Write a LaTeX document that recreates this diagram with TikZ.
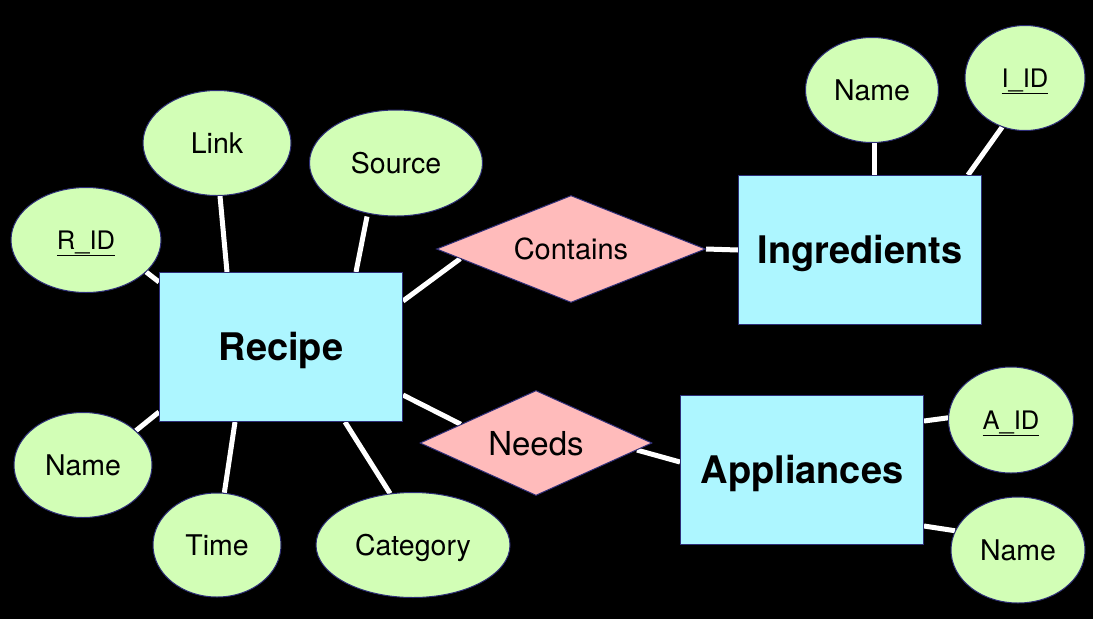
\documentclass[tikz,border=0pt]{standalone}
\usepackage{fontspec}
\setmainfont{TeX Gyre Heros}
\usetikzlibrary{positioning,shapes.geometric,backgrounds}
\definecolor{attrgreen}{HTML}{D2FEB6}
\definecolor{entcyan}{HTML}{ADF6FF}
\definecolor{relpink}{HTML}{FFBBBB}
\definecolor{edgenavy}{HTML}{2E2E78}
\tikzset{
    entity/.style={%
        draw=edgenavy, fill=entcyan, line width=1pt,
        minimum width=243pt,
        minimum height=149pt,
        inner sep=0pt, text height=27pt, text depth=0pt,
        font=\fontsize{38}{40}\selectfont\bfseries
        },
    attrib/.style={%
        ellipse, draw=edgenavy, fill=attrgreen, line width=1pt,
        minimum width=#1,
        minimum height=105pt,
        inner sep=0pt, text height=20.5pt, text depth=0pt,
        font=\fontsize{28.5}{30}\selectfont
        },
    attrib/.default=138pt,
    keyattrib/.style={attrib=#1, text height=18pt, font=\fontsize{25.5}{27}\selectfont},
    keyattrib/.default=125pt,
    relation/.style={%
        diamond, aspect=2.5, draw=edgenavy, fill=relpink, line width=1pt,
        minimum width=#1,
        minimum height=107pt,
        inner sep=0pt, text height=21pt, text depth=0pt,
        font=\fontsize{29}{31}\selectfont
        },
    relation/.default=269pt,
    link/.style={draw=white, line width=5pt}
}

\begin{document}
\begin{tikzpicture}[x=1pt, y=-1pt]

\useasboundingbox (0,0) rectangle (1093,619);

\node[entity] (Recipe) at (281,347) {Recipe};

\node[entity] (Ingredients) at (860,250) {Ingredients};

\node[entity] (Appliances) at (802,470) {Appliances};

\node[relation] (Contains) at (571,249) {Contains};

\node[relation=232pt, minimum height=105pt, text height=24pt, font=\fontsize{33}{35}\selectfont] (Needs) at (536,443) {Needs};

\node[attrib=148pt] (Link) at (217,143) {Link};

\node[attrib=173pt, minimum height=106pt] (Source) at (396,163) {Source};

\node[keyattrib=150pt] (R-ID) at (86,240) {\underline{R\_ID}};

\node[attrib] (R-Name) at (83,465) {Name};

\node[attrib=128pt, minimum height=104pt] (Time) at (217,545) {Time};

\node[attrib=194pt] (Category) at (413,545) {Category};

\node[attrib=133pt] (I-Name) at (872,90) {Name};

\node[keyattrib=120pt] (I-ID) at (1025,78) {\underline{I\_ID}};

\node[keyattrib, minimum height=106pt] (A-ID) at (1011,420) {\underline{A\_ID}};

\node[attrib=134pt, minimum height=106pt] (A-Name) at (1018,550) {Name};

\begin{scope}[on background layer]
\fill[black] (0,0) rectangle (1093,619);

\draw[link] ([xshift=3pt]Link.south) -- ([xshift=68pt]Recipe.north west);
\draw[link] ([xshift=-29pt]Source.south) -- ([xshift=197pt]Recipe.north west);
\draw[link] (R-ID.-28) -- ([yshift=-10pt]Recipe.north west);
\draw[link] (R-Name.33) -- ([yshift=10pt]Recipe.south west);
\draw[link] (Time.82) -- ([xshift=76pt]Recipe.south west);
\draw[link] (Category.114) -- ([xshift=186pt]Recipe.south west);

\draw[link] ([yshift=-29pt]Recipe.north east) -- (Contains.185);
\draw[link] (Contains.east) -- (Ingredients.west);
\draw[link] ([yshift=27pt]Recipe.south east) -- (Needs.166);
\draw[link] (Needs.-4) -- ([yshift=8pt]Appliances.west);

\draw[link] ([xshift=2pt]I-Name.south) -- ([xshift=2pt]I-Name.south |- Ingredients.north);
\draw[link] (I-ID.245) -- ([xshift=-14pt]Ingredients.north east);

\draw[link] ([yshift=-26pt]Appliances.north east) -- (A-ID.178);
\draw[link] ([yshift=19pt]Appliances.south east) -- (A-Name.163);
\end{scope}

\end{tikzpicture}
\end{document}
